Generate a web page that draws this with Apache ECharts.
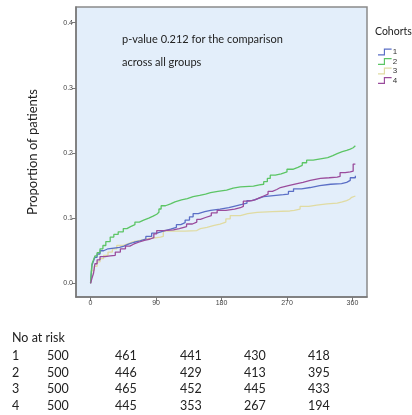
<!doctype html>
<html lang="en">
  <head>
    <meta charset="UTF-8" />
    <title>Cumulative proportion by cohort</title>
    <style>
      html,
      body {
        width: 100%;
        height: 100%;
        margin: 0;
        padding: 0;
        background: #fff;
      }
      #Echart {
        width: 412px;
        height: 415px;
      }
    </style>
  </head>
  <body>
    <div id="Echart"></div>
    <script src="https://cdn.jsdelivr.net/npm/echarts@6/dist/echarts.min.js"></script>
    <script type="text/javascript">
      // ticks
      const xTicks = [0, 90, 180, 270, 360]
      const yTicks = [0, 0.1, 0.2, 0.3, 0.4]
      const cohortNames = ['1', '2', '3', '4']

      // [day, proportion]
      const cohort1 = [
        [0, 0], [1, 0.015], [2, 0.028], [4, 0.034], [6, 0.04], [9, 0.045], [13, 0.05], [18, 0.053],
        [24, 0.055], [40, 0.057], [46, 0.06], [52, 0.063], [60, 0.065], [68, 0.068], [76, 0.072],
        [84, 0.077], [91, 0.08], [100, 0.083], [110, 0.086], [118, 0.09], [124, 0.093], [130, 0.097],
        [136, 0.102], [141, 0.107], [148, 0.11], [157, 0.112], [165, 0.114], [178, 0.116], [190, 0.119],
        [200, 0.121], [208, 0.123], [215, 0.127], [222, 0.13], [230, 0.133], [238, 0.136], [265, 0.137],
        [272, 0.141], [279, 0.145], [290, 0.147], [302, 0.15], [315, 0.152], [330, 0.153], [345, 0.155],
        [352, 0.158], [357, 0.162], [364, 0.165],
      ]
      const cohort2 = [
        [0, 0], [1, 0.018], [2, 0.03], [4, 0.036], [6, 0.042], [9, 0.047], [13, 0.053], [17, 0.058],
        [21, 0.064], [27, 0.071], [32, 0.075], [38, 0.079], [45, 0.084], [50, 0.087], [55, 0.09],
        [61, 0.094], [67, 0.097], [73, 0.1], [80, 0.103], [86, 0.106], [91, 0.109], [94, 0.114],
        [97, 0.119], [103, 0.122], [110, 0.125], [116, 0.128], [125, 0.13], [133, 0.133], [141, 0.135],
        [150, 0.137], [158, 0.139], [165, 0.141], [175, 0.143], [187, 0.146], [196, 0.148], [206, 0.149],
        [224, 0.151], [232, 0.152], [238, 0.156], [243, 0.161], [247, 0.166], [254, 0.168], [262, 0.171],
        [270, 0.175], [278, 0.178], [285, 0.181], [291, 0.185], [297, 0.189], [306, 0.191], [316, 0.193],
        [326, 0.196], [333, 0.199], [339, 0.202], [346, 0.204], [352, 0.206], [357, 0.208], [361, 0.211],
        [364, 0.212],
      ]
      const cohort3 = [
        [0, 0], [1, 0.01], [2, 0.02], [5, 0.026], [9, 0.033], [13, 0.038], [18, 0.043], [24, 0.048],
        [30, 0.053], [36, 0.058], [44, 0.061], [52, 0.064], [59, 0.066], [68, 0.068], [77, 0.071],
        [96, 0.072], [100, 0.08], [130, 0.081], [146, 0.084], [151, 0.086], [160, 0.089], [170, 0.091],
        [178, 0.094], [186, 0.099], [192, 0.104], [206, 0.107], [216, 0.109], [229, 0.11], [250, 0.111],
        [274, 0.112], [280, 0.114], [288, 0.118], [300, 0.12], [311, 0.122], [325, 0.123], [339, 0.125],
        [346, 0.127], [352, 0.129], [356, 0.132], [359, 0.134], [364, 0.135],
      ]
      const cohort4 = [
        [0, 0], [2, 0.008], [4, 0.015], [6, 0.03], [9, 0.036], [13, 0.041], [20, 0.042], [27, 0.043],
        [34, 0.048], [41, 0.053], [48, 0.057], [54, 0.06], [59, 0.063], [66, 0.066], [74, 0.068],
        [82, 0.07], [87, 0.076], [91, 0.081], [100, 0.082], [114, 0.084], [122, 0.087], [132, 0.091],
        [140, 0.094], [146, 0.098], [151, 0.101], [158, 0.104], [166, 0.108], [174, 0.112], [186, 0.114],
        [198, 0.116], [206, 0.118], [210, 0.126], [218, 0.128], [226, 0.131], [232, 0.134], [238, 0.137],
        [244, 0.141], [250, 0.144], [256, 0.147], [261, 0.15], [272, 0.153], [284, 0.155], [292, 0.158],
        [302, 0.161], [316, 0.162], [328, 0.163], [339, 0.164], [343, 0.17], [350, 0.171], [357, 0.172],
        [361, 0.183], [364, 0.184],
      ]

      // number at risk table
      const riskLabels = ['1', '2', '3', '4']
      const risk1 = [500, 461, 441, 430, 418]
      const risk2 = [500, 446, 429, 413, 395]
      const risk3 = [500, 465, 452, 445, 433]
      const risk4 = [500, 445, 353, 267, 194]

      const colors = ['#5b6fc6', '#5cc565', '#e0dba2', '#9a4c9c']
      const stepIcon = 'path://M0,6 L6,6 L6,0 L14,0 L14,1.2 L7.2,1.2 L7.2,7.2 L0,7.2 Z'

      let chart = null
      function initEchart() {
        const font = 'Lato, "Open Sans", sans-serif'
        const curves = [cohort1, cohort2, cohort3, cohort4]
        const rows = [risk1, risk2, risk3, risk4]
        const colX = [47, 115, 180, 244, 308]

        const tableTexts = [
          {
            type: 'text',
            left: 12,
            top: 331,
            style: { text: 'No at risk', fontSize: 12.5, fontFamily: font, fill: '#222' },
          },
        ]
        rows.forEach((row, r) => {
          const top = 349.5 + r * 16.7
          tableTexts.push({
            type: 'text',
            left: 12,
            top: top,
            style: { text: riskLabels[r], fontSize: 12.5, fontFamily: font, fill: '#222' },
          })
          row.forEach((v, c) => {
            tableTexts.push({
              type: 'text',
              left: colX[c],
              top: top,
              style: { text: String(v), fontSize: 12.5, fontFamily: font, fill: '#222' },
            })
          })
        })

        const option = {
          animation: false,
          backgroundColor: '#fff',
          color: colors,
          grid: {
            left: 76,
            top: 7,
            right: 45,
            bottom: 118,
            show: true,
            backgroundColor: '#e3eefa',
            borderColor: '#8a8a8a',
            borderWidth: 1.5,
          },
          legend: {
            orient: 'vertical',
            left: 378,
            top: 48,
            padding: 0,
            itemGap: 1.5,
            itemWidth: 14,
            itemHeight: 7,
            icon: stepIcon,
            textStyle: { fontSize: 8, color: '#333', fontFamily: 'Liberation Sans, Arial', padding: [0, 0, 0, -4] },
            data: cohortNames,
          },
          xAxis: {
            type: 'value',
            min: -20,
            max: 380,
            splitLine: { show: false },
            axisLine: { show: true, onZero: false, lineStyle: { color: '#777', width: 1.5 } },
            axisTick: { show: true, length: 4, customValues: xTicks, lineStyle: { color: '#777' } },
            axisLabel: {
              customValues: xTicks,
              fontSize: 7,
              color: '#444',
              margin: 3,
              fontFamily: 'Liberation Sans, Arial',
            },
          },
          yAxis: {
            type: 'value',
            min: -0.021,
            max: 0.424,
            name: 'Proportion of patients',
            nameLocation: 'middle',
            nameGap: 37,
            nameTextStyle: { fontSize: 13, color: '#222', fontFamily: font },
            splitLine: { show: false },
            axisLine: { show: true, onZero: false, lineStyle: { color: '#777', width: 1.5 } },
            axisTick: { show: true, length: 4, customValues: yTicks, lineStyle: { color: '#777' } },
            axisLabel: {
              customValues: yTicks,
              fontSize: 7,
              color: '#444',
              margin: 3,
              fontFamily: 'Liberation Sans, Arial',
              formatter: (v) => v.toFixed(1),
            },
          },
          graphic: [
            {
              type: 'text',
              left: 375,
              top: 26,
              style: { text: 'Cohorts', fontSize: 10.5, fontFamily: font, fill: '#222' },
            },
            {
              type: 'text',
              left: 122,
              top: 28,
              style: {
                text: 'p-value 0.212 for the comparison\nacross all groups',
                fontSize: 11,
                lineHeight: 23,
                fontFamily: font,
                fill: '#222',
              },
            },
          ].concat(tableTexts),
          series: curves.map((d, i) => ({
            name: cohortNames[i],
            type: 'line',
            step: 'end',
            showSymbol: false,
            data: d,
            lineStyle: { width: 1.3, color: colors[i] },
            itemStyle: { color: colors[i] },
            z: i === 2 ? 1 : 2,
          })),
        }
        chart = echarts.init(document.getElementById('Echart'))
        chart.setOption(option)
      }
      window.onload = function () {
        initEchart()
      }
    </script>
  </body>
</html>
